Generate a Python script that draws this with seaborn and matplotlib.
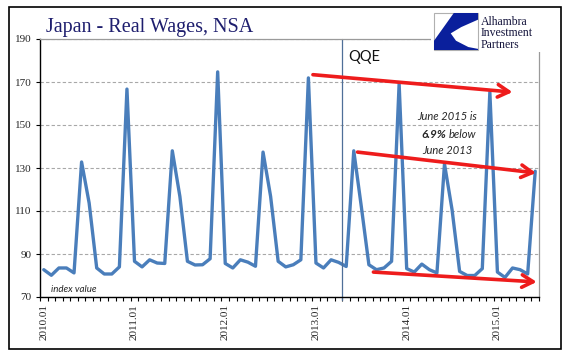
import matplotlib
matplotlib.use("Agg")
import matplotlib.pyplot as plt
import matplotlib.patches as mpatches
import seaborn as sns
import pandas as pd
import numpy as np

# monthly real wage index, 2010.01 - 2015.06
wages_2010 = [82.7, 80.1, 83.5, 83.5, 81.2, 132.8, 113.7, 83.5, 80.7, 80.7, 84.0, 166.7]
wages_2011 = [86.6, 84.0, 87.3, 85.8, 85.6, 138.0, 116.8, 86.6, 84.9, 85.0, 87.8, 174.7]
wages_2012 = [85.6, 83.5, 87.3, 86.2, 84.3, 137.4, 116.8, 86.6, 84.0, 85.0, 87.3, 171.9]
wages_2013 = [85.8, 83.5, 87.3, 86.1, 84.2, 138.0, 112.0, 85.0, 82.7, 83.5, 86.6, 169.2]
wages_2014 = [83.2, 81.6, 85.3, 82.7, 81.2, 131.9, 110.6, 81.9, 80.0, 80.0, 83.2, 165.3]
wages_2015 = [81.6, 79.1, 83.5, 82.7, 80.7, 128.5]

wages = wages_2010 + wages_2011 + wages_2012 + wages_2013 + wages_2014 + wages_2015
months = [f"{y}.{m:02d}" for y in range(2010, 2016) for m in range(1, 13)][:len(wages)]
year_labels = ["2010.01", "2011.01", "2012.01", "2013.01", "2014.01", "2015.01"]
y_ticks = [70, 90, 110, 130, 150, 170, 190]
qqe_month = "2013.04"

df = pd.DataFrame({"month": months, "wages": wages})
df["pos"] = np.arange(len(df))

sns.set_style("white")
plt.rcParams["font.family"] = ["Liberation Serif", "DejaVu Serif"]

W, H = 570, 361
def fx(px):
    return px / W
def fy(py):
    return 1 - py / H

fig = plt.figure(figsize=(W / 100, H / 100), dpi=100)
ax = fig.add_axes([fx(40), fy(297), 499 / W, 258 / H])

sns.lineplot(data=df, x="pos", y="wages", color="#4A7EBB", linewidth=2.4, ax=ax)

ax.set_xlim(-0.5, len(df) - 0.5)
ax.set_ylim(70, 190)
ax.set_yticks(y_ticks)
ax.set_yticklabels([str(v) for v in y_ticks], fontsize=8)
major = [months.index(l) for l in year_labels]
ax.set_xticks(major)
ax.set_xticklabels(year_labels, rotation=90, fontsize=8)
ax.set_xticks(np.arange(-0.5, len(df), 1), minor=True)
ax.tick_params(axis="x", which="major", length=0, pad=5)
ax.tick_params(axis="x", which="minor", length=3, width=0.8, color="black", direction="out", bottom=True)
ax.tick_params(axis="y", length=3, width=0.8, color="black", direction="out", left=True, pad=3)
ax.set_xlabel("")
ax.set_ylabel("")

ax.yaxis.grid(True, linestyle=(0, (3, 2)), color="#a8a8a8", linewidth=0.8)
ax.xaxis.grid(False)
for side in ["left", "bottom"]:
    ax.spines[side].set_color("black")
    ax.spines[side].set_linewidth(1.0)
for side in ["top", "right"]:
    ax.spines[side].set_color("#9a9a9a")
    ax.spines[side].set_linewidth(0.9)

# QQE marker
qpos = months.index(qqe_month) + 0.5
ax.axvline(qpos, ymin=-0.012, ymax=1, color="#4f6f98", linewidth=0.9, clip_on=False)
fig.text(fx(348), fy(57), "QQE", fontsize=10.5, family=["Lato", "DejaVu Sans"], va="center", ha="left", color="#111111")

# red trend arrows
arrow_kw = dict(arrowstyle="->,head_length=0.8,head_width=0.45", color="#ee1c1c", lw=2.6,
                shrinkA=0, shrinkB=0)
ax.annotate("", xy=(62.0, 165.3), xytext=(35.6, 173.4), arrowprops=arrow_kw)
ax.annotate("", xy=(65.1, 127.7), xytext=(41.5, 137.4), arrowprops=arrow_kw, annotation_clip=False)
ax.annotate("", xy=(65.2, 77.0), xytext=(43.6, 81.6), arrowprops=arrow_kw, annotation_clip=False)

sans = ["Lato", "DejaVu Sans"]
fig.text(fx(447.5), fy(116), "June 2015 is", fontsize=8, style="italic", family=sans, ha="center", va="center")
fig.text(fx(446), fy(134), "6.9%", fontsize=8.5, style="italic", weight="bold", family=sans, ha="right", va="center")
fig.text(fx(449), fy(134), "below", fontsize=8, style="italic", family=sans, ha="left", va="center")
fig.text(fx(447.5), fy(150), "June 2013", fontsize=8, style="italic", family=sans, ha="center", va="center")
fig.text(fx(51), fy(290), "index value", fontsize=7, style="italic", family=sans, ha="left", va="center")

# title
fig.text(fx(46), fy(32), "Japan - Real Wages, NSA", fontsize=14.5, color="#1e1e6e", ha="left", va="baseline")

# logo
fig.patches.append(mpatches.Rectangle((fx(431), fy(52)), (558 - 431) / W, 43 / H,
                                      transform=fig.transFigure, facecolor="white", edgecolor="none", zorder=3))
bx0, by0, bw, bh = 434, 50, 44, 37
fig.patches.append(mpatches.Rectangle((fx(bx0), fy(by0)), bw / W, bh / H, transform=fig.transFigure,
                                      facecolor="white", edgecolor="#b0b0b0", linewidth=0.8, zorder=4))
swoosh = [(0.45, 1.0), (1.0, 1.0), (1.0, 0.82), (0.62, 0.62), (0.38, 0.45), (0.5, 0.25),
          (0.78, 0.08), (1.0, 0.03), (1.0, 0.0), (0.0, 0.0), (0.0, 0.25)]
pts = [(fx(bx0 + u * bw), fy(by0 - v * bh)) for u, v in swoosh]
fig.patches.append(mpatches.Polygon(pts, closed=True, transform=fig.transFigure,
                                    facecolor="#0a1f9c", edgecolor="none", zorder=5))
for i, word in enumerate(["Alhambra", "Investment", "Partners"]):
    fig.text(fx(481), fy(22 + 11.5 * i), word, fontsize=8.5, color="#14143c", ha="left", va="center", zorder=6)

# outer frame
fig.patches.append(mpatches.Rectangle((fx(9), fy(349)), 552 / W, 342 / H, transform=fig.transFigure,
                                      facecolor="none", edgecolor="black", linewidth=1.2, zorder=2))

fig.savefig("out.png", dpi=100)
